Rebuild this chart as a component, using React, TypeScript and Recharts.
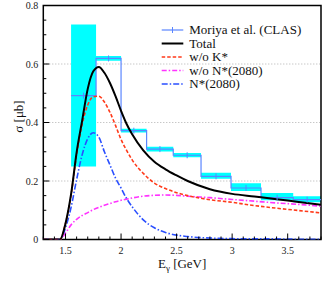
import {
  ComposedChart,
  Line,
  Area,
  Scatter,
  XAxis,
  YAxis,
  CartesianGrid,
  ReferenceArea,
  Legend,
} from 'recharts';

// photon energy grid for the model curves [GeV]
const energies = [
  1.3, 1.45, 1.5, 1.55, 1.6, 1.65, 1.7, 1.75, 1.8, 1.85, 1.9, 1.95, 2.0, 2.05, 2.1, 2.2, 2.3,
  2.4, 2.5, 2.6, 2.8, 3.0, 3.2, 3.4, 3.6, 3.8,
];
const total = [
  0, 0, 0.055, 0.155, 0.298, 0.407, 0.515, 0.575, 0.59, 0.57, 0.535, 0.49, 0.44, 0.395, 0.36,
  0.305, 0.266, 0.24, 0.219, 0.2, 0.172, 0.156, 0.147, 0.138, 0.128, 0.119,
];
const withoutKstar = [
  0, 0, 0.055, 0.152, 0.29, 0.395, 0.46, 0.488, 0.49, 0.47, 0.435, 0.39, 0.342, 0.305, 0.272,
  0.226, 0.193, 0.174, 0.16, 0.15, 0.136, 0.127, 0.116, 0.107, 0.099, 0.091,
];
const withoutNstar = [
  0, 0, 0.022, 0.05, 0.069, 0.082, 0.092, 0.102, 0.11, 0.117, 0.123, 0.129, 0.134, 0.138, 0.142,
  0.148, 0.151, 0.152, 0.151, 0.148, 0.143, 0.137, 0.131, 0.125, 0.12, 0.114,
];
const nstarOnly = [
  0, 0, 0.04, 0.11, 0.205, 0.29, 0.345, 0.365, 0.35, 0.3, 0.255, 0.21, 0.176, 0.14, 0.112,
  0.067, 0.04, 0.024, 0.015, 0.01, 0.005, 0.003, 0.002, 0.002, 0.001, 0.001,
];

// Moriya et al. (CLAS) bins
const binEdges = [1.55, 1.775, 2.0, 2.23, 2.47, 2.72, 2.99, 3.26, 3.55, 3.8];
const binValues = [0.492, 0.619, 0.372, 0.309, 0.288, 0.216, 0.176, 0.143, 0.136];
const binLow = [0.25, 0.611, 0.366, 0.301, 0.281, 0.208, 0.166, 0.134, 0.127];
const binHigh = [0.735, 0.627, 0.379, 0.317, 0.296, 0.228, 0.192, 0.159, 0.148];

const xTicks = [
  1.3, 1.4, 1.5, 1.6, 1.7, 1.8, 1.9, 2.0, 2.1, 2.2, 2.3, 2.4, 2.5, 2.6, 2.7, 2.8, 2.9, 3.0, 3.1,
  3.2, 3.3, 3.4, 3.5, 3.6, 3.7, 3.8,
];
const xLabels = [1.5, 2, 2.5, 3, 3.5];
const yTicks = [
  0, 0.05, 0.1, 0.15, 0.2, 0.25, 0.3, 0.35, 0.4, 0.45, 0.5, 0.55, 0.6, 0.65, 0.7, 0.75, 0.8,
];
const yLabels = [0, 0.2, 0.4, 0.6, 0.8];
const gridValues = [0.2, 0.4, 0.6];

const FONT = '"Liberation Serif", "Times New Roman", "DejaVu Serif", serif';
const C_DATA = '#5b86ff';
const C_BAND = '#00ffff';
const C_RED = '#ff3a1a';
const C_MAG = '#ff33ff';
const C_BLUE = '#2a4fff';

const curve = (vals: number[]) => energies.map((e, i) => ({ e, v: vals[i] }));

// step points: one per bin left edge + closing point at the last edge
const stepData = binEdges.map((e, i) => {
  const k = Math.min(i, binValues.length - 1);
  return { e, v: binValues[k], band: [binLow[k], binHigh[k]] };
});
const centers = binValues.map((v, i) => ({ e: (binEdges[i] + binEdges[i + 1]) / 2, v }));

const near = (list: number[], v: number) => list.some((t) => Math.abs(t - v) < 1e-6);

const txt = { fontFamily: FONT };

const XTick = (props: any) => {
  const { x, y, payload } = props;
  const major = near(xLabels, payload.value);
  return (
    <g>
      <line x1={x} x2={x} y1={y} y2={y - (major ? 6 : 3)} stroke="#000" strokeWidth={1} />
      {major && (
        <text x={x} y={y + 14} textAnchor="middle" fontSize={10} style={txt} fill="#222">
          {String(payload.value)}
        </text>
      )}
    </g>
  );
};

const YTick = (props: any) => {
  const { x, y, payload } = props;
  const major = near(yLabels, payload.value);
  return (
    <g>
      <line x1={x} x2={x + (major ? 6 : 3)} y1={y} y2={y} stroke="#000" strokeWidth={1} />
      {major && (
        <text x={x - 5} y={y + 3.5} textAnchor="end" fontSize={10} style={txt} fill="#222">
          {String(payload.value)}
        </text>
      )}
    </g>
  );
};

const XLabel = (props: any) => {
  const vb = props.viewBox;
  return (
    <text x={vb.x + vb.width / 2} y={vb.y + 28.5} textAnchor="middle" fontSize={13} style={txt} fill="#111">
      E
      <tspan fontSize={9} dy={3}>γ</tspan>
      <tspan dy={-3}> [GeV]</tspan>
    </text>
  );
};

const YLabel = (props: any) => {
  const vb = props.viewBox;
  const cy = vb.y + vb.height / 2 - 6;
  return (
    <text x={23} y={cy} transform={`rotate(-90, 23, ${cy})`} textAnchor="middle" fontSize={13} style={txt} fill="#111">
      σ [μb]
    </text>
  );
};

const legendRows = [
  { name: 'Moriya et al. (CLAS)', color: C_DATA, width: 1.2, dash: '', marker: true },
  { name: 'Total', color: '#000', width: 2, dash: '', marker: false },
  { name: 'w/o K*', color: C_RED, width: 1.6, dash: '3.5 2', marker: false },
  { name: 'w/o N*(2080)', color: C_MAG, width: 1.6, dash: '5 2 1.5 2', marker: false },
  { name: 'N*(2080)', color: C_BLUE, width: 1.6, dash: '6 2 1.5 2', marker: false },
];

const LegendBox = () => (
  <svg width={170} height={72} style={{ display: 'block' }}>
    {legendRows.map((r, i) => {
      const y = 8 + i * 13.5;
      return (
        <g key={r.name}>
          <line x1={3.7} x2={25.3} y1={y} y2={y} stroke={r.color} strokeWidth={r.width} strokeDasharray={r.dash || undefined} />
          {r.marker && <line x1={14.5} x2={14.5} y1={y - 3} y2={y + 3} stroke={r.color} strokeWidth={1} />}
          <text x={31.3} y={y + 4.3} fontSize={13} style={txt} fill="#111">
            {r.name}
          </text>
        </g>
      );
    })}
  </svg>
);

const CenterMark = (props: any) => {
  const { cx, cy } = props;
  return <line x1={cx} x2={cx} y1={cy - 3} y2={cy + 3} stroke={C_DATA} strokeWidth={1} />;
};

export default function App() {
  return (
    <div style={{ position: 'absolute', left: 0, top: 0, width: 327, height: 284, background: '#fff', fontFamily: FONT }}>
      <ComposedChart width={327} height={284} margin={{ top: 5.5, right: 6, left: 0, bottom: 0 }}>
        <CartesianGrid vertical={false} horizontalValues={gridValues} stroke="#b0b0b0" strokeDasharray="1 2" />
        <XAxis
          dataKey="e"
          type="number"
          domain={[1.3, 3.8]}
          allowDataOverflow
          ticks={xTicks}
          interval={0}
          height={44.5}
          tickSize={0}
          tickMargin={0}
          axisLine={false}
          tick={<XTick />}
          label={<XLabel />}
        />
        <YAxis
          type="number"
          domain={[0, 0.8]}
          allowDataOverflow
          ticks={yTicks}
          interval={0}
          width={43.3}
          tickSize={0}
          tickMargin={0}
          axisLine={false}
          tick={<YTick />}
          label={<YLabel />}
        />
        <Area
          data={stepData}
          dataKey="band"
          type="stepAfter"
          fill={C_BAND}
          fillOpacity={1}
          stroke="none"
          isAnimationActive={false}
          activeDot={false}
        />
        <Line
          data={stepData}
          dataKey="v"
          type="stepAfter"
          stroke={C_DATA}
          strokeWidth={1.2}
          dot={false}
          activeDot={false}
          isAnimationActive={false}
        />
        <Scatter data={centers} dataKey="v" shape={<CenterMark />} isAnimationActive={false} />
        <Line
          data={curve(withoutNstar)}
          dataKey="v"
          type="monotone"
          stroke={C_MAG}
          strokeWidth={1.6}
          strokeDasharray="5 2 1.5 2"
          dot={false}
          activeDot={false}
          isAnimationActive={false}
        />
        <Line
          data={curve(nstarOnly)}
          dataKey="v"
          type="monotone"
          stroke={C_BLUE}
          strokeWidth={1.6}
          strokeDasharray="6 2 1.5 2"
          dot={false}
          activeDot={false}
          isAnimationActive={false}
        />
        <Line
          data={curve(withoutKstar)}
          dataKey="v"
          type="monotone"
          stroke={C_RED}
          strokeWidth={1.6}
          strokeDasharray="3.5 2"
          dot={false}
          activeDot={false}
          isAnimationActive={false}
        />
        <Line
          data={curve(total)}
          dataKey="v"
          type="monotone"
          stroke="#000"
          strokeWidth={2}
          dot={false}
          activeDot={false}
          isAnimationActive={false}
        />
        <ReferenceArea x1={1.3} x2={3.8} y1={0} y2={0.8} fill="none" stroke="#000" strokeWidth={1.5} ifOverflow="visible" />
        <Legend
          layout="horizontal"
          verticalAlign="middle"
          align="center"
          content={<LegendBox />}
          wrapperStyle={{ left: 158, top: 22, width: 170, height: 72 }}
        />
      </ComposedChart>
    </div>
  );
}
